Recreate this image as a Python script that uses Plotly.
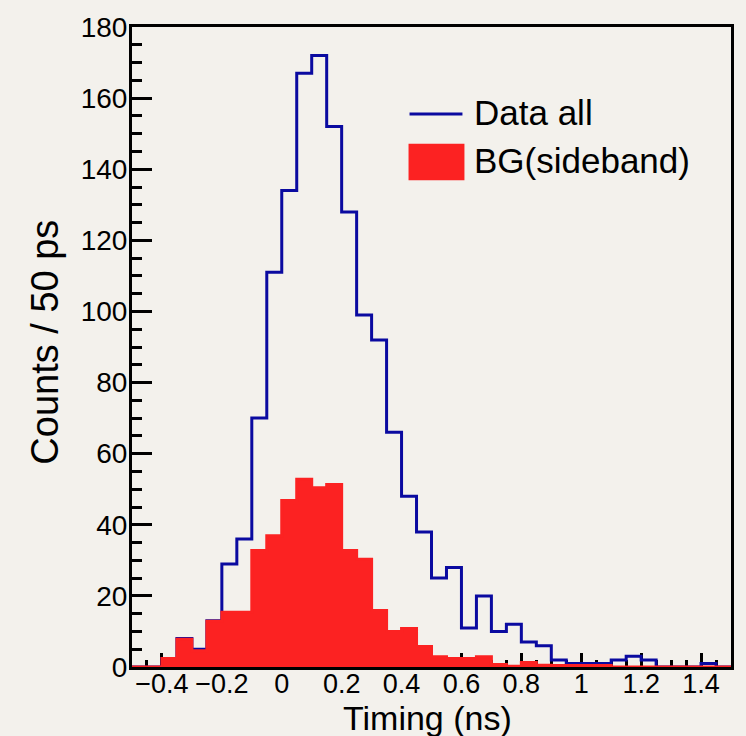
import numpy as np
import plotly.graph_objects as go

# Histogram binning (ns)
bin_lo = -0.5
bin_width = 0.05

# Counts per 50 ps bin, from -0.5 to 1.5 ns (40 bins)
data_all = [0, 0, 2.4, 8, 5, 13, 29, 36, 70, 111,
            134, 167, 172, 152, 128, 99, 92, 66, 48, 38,
            25, 28, 11, 20, 10, 12, 7, 6, 2, 1,
            1, 1, 2, 3, 2, 0, 0, 0, 1, 0]
bg_sideband = [0, 0, 2.4, 7.8, 4.6, 12.9, 15.4, 15.4, 32.8, 36.9,
               46.8, 52.8, 50.4, 51.3, 32.8, 30.3, 15.9, 10.0, 10.8, 5.8,
               2.9, 2.4, 2.4, 2.9, 0.7, 0.2, 1.3, 0.5, 0.4, 0.4,
               0.4, 0.4, 0, 0, 0, 0, 0, 0, 0, 0]

x_ticks = [-0.4, -0.2, 0, 0.2, 0.4, 0.6, 0.8, 1, 1.2, 1.4]
y_ticks = [0, 20, 40, 60, 80, 100, 120, 140, 160, 180]

n = len(data_all)
edges = bin_lo + bin_width * np.arange(n + 1)
x_step = list(edges)
blue_step = list(data_all) + [data_all[-1]]
red_step = list(bg_sideband) + [bg_sideband[-1]]

FONT = "Liberation Sans, Arial, Helvetica, sans-serif"
BLUE = "#0a0aa0"
RED = "#fc2222"
BG = "#f3f1ec"

fig = go.Figure()
fig.add_trace(go.Scatter(x=x_step, y=blue_step, mode="lines",
                         line=dict(shape="hv", color=BLUE, width=3),
                         name="Data all", showlegend=False, hoverinfo="skip"))
fig.add_trace(go.Scatter(x=x_step, y=red_step, mode="lines",
                         line=dict(shape="hv", color=RED, width=3),
                         fill="tozeroy", fillcolor=RED,
                         name="BG(sideband)", showlegend=False, hoverinfo="skip"))

W, H = 746, 736
L, R, T, B = 132, 14, 20, 69
pw, ph = W - L - R, H - T - B

def px(xp):
    return (xp - L) / pw

def py(yp):
    return (H - B - yp) / ph

# manual legend
fig.add_shape(type="line", xref="paper", yref="paper",
              x0=px(410), x1=px(463), y0=py(108), y1=py(108),
              line=dict(color=BLUE, width=3))
fig.add_shape(type="rect", xref="paper", yref="paper",
              x0=px(409), x1=px(465), y0=py(175), y1=py(138),
              line=dict(width=0), fillcolor=RED)
fig.add_annotation(xref="paper", yref="paper", x=px(473), y=py(106),
                   text="Data all", showarrow=False, xanchor="left", yanchor="middle",
                   font=dict(family=FONT, size=35, color="black"))
fig.add_annotation(xref="paper", yref="paper", x=px(473), y=py(155),
                   text="BG(sideband)", showarrow=False, xanchor="left", yanchor="middle",
                   font=dict(family=FONT, size=35, color="black"))

# axis titles
fig.add_annotation(xref="paper", yref="paper", x=px(428), y=py(719),
                   text="Timing (ns)", showarrow=False, xanchor="center", yanchor="middle",
                   font=dict(family=FONT, size=34, color="black"))
fig.add_annotation(xref="paper", yref="paper", x=px(44), y=py(339),
                   text="Counts / 50 ps", showarrow=False, textangle=-90,
                   xanchor="center", yanchor="middle",
                   font=dict(family=FONT, size=38, color="black"))

fig.update_layout(
    width=W, height=H,
    margin=dict(l=L, r=R, t=T, b=B),
    paper_bgcolor=BG, plot_bgcolor=BG,
    showlegend=False,
    font=dict(family=FONT, color="black"),
)
fig.update_xaxes(range=[-0.5, 1.5], tickvals=x_ticks,
                 ticktext=[("\u2212" if v < 0 else "") + (f"{abs(v):g}") for v in x_ticks],
                 ticks="inside", ticklen=14, tickwidth=3, tickcolor="black",
                 minor=dict(dtick=0.05, tick0=0, ticks="inside", ticklen=7, tickwidth=3, tickcolor="black"),
                 showline=True, linecolor="black", linewidth=3, mirror=True,
                 showgrid=False, zeroline=False, layer="below traces",
                 ticklabelstandoff=-9,
                 tickfont=dict(family=FONT, size=27, color="black"))
fig.update_yaxes(range=[0, 180], tickvals=y_ticks,
                 ticks="inside", ticklen=20, tickwidth=3, tickcolor="black",
                 minor=dict(dtick=5, tick0=0, ticks="inside", ticklen=10, tickwidth=3, tickcolor="black"),
                 showline=True, linecolor="black", linewidth=3, mirror=True,
                 showgrid=False, zeroline=False, layer="below traces",
                 ticklabelstandoff=-4,
                 tickfont=dict(family=FONT, size=28, color="black"))

fig.write_html("out.html")
